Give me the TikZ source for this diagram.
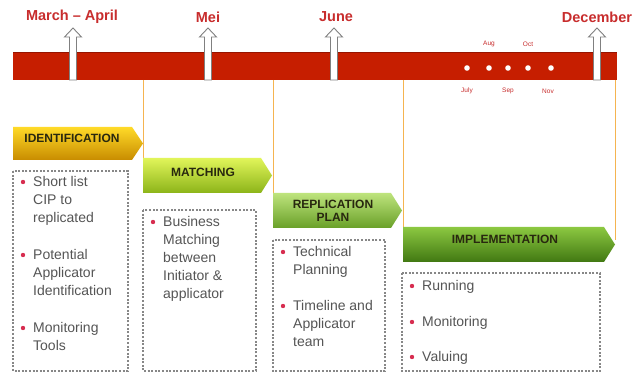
\documentclass[tikz,border=0pt]{standalone}
\usepackage{fontspec}
\setmainfont{Liberation Sans}
\definecolor{barred}{RGB}{198,30,0}
\definecolor{bardark}{RGB}{150,20,0}
\definecolor{labred}{RGB}{200,45,45}
\definecolor{vline}{RGB}{245,180,80}
\definecolor{boxgray}{RGB}{135,135,135}
\definecolor{txtgray}{RGB}{85,85,85}
\definecolor{bulcol}{RGB}{215,45,80}
\definecolor{stagetxt}{RGB}{40,40,15}
\definecolor{idT}{RGB}{255,218,40}
\definecolor{idM}{RGB}{246,184,0}
\definecolor{idB}{RGB}{200,140,0}
\definecolor{maT}{RGB}{225,245,90}
\definecolor{maM}{RGB}{190,228,45}
\definecolor{maB}{RGB}{140,180,25}
\definecolor{reT}{RGB}{190,228,125}
\definecolor{reM}{RGB}{145,205,70}
\definecolor{reB}{RGB}{105,160,40}
\definecolor{imT}{RGB}{140,200,65}
\definecolor{imM}{RGB}{98,165,35}
\definecolor{imB}{RGB}{65,120,18}
\tikzset{
  monthlab/.style={font=\fontsize{14.5}{16}\selectfont\bfseries, text=labred},
  smalllab/.style={font=\fontsize{6.5}{8}\selectfont, text=labred},
  stagelab/.style={font=\fontsize{12}{13}\selectfont\bfseries, text=stagetxt},
  itemtext/.style={font=\fontsize{14}{18}\selectfont, text=txtgray, inner sep=0pt},
  dbox/.style={draw=boxgray, line width=1.1pt, dash pattern=on 2pt off 1.6pt},
  conn/.style={draw=vline, line width=0.9pt},
  uparrow/.style={fill=white, draw=gray, line width=0.9pt},
}
\newcommand\upar[2]{% name, x
  \path[uparrow] ({#2-3.5},80) -- ({#2-3.5},37) -- ({#2-8.5},37) -- (#2,28) -- ({#2+8.5},37) -- ({#2+3.5},37) -- ({#2+3.5},80) -- cycle;
  \coordinate (#1) at (#2,28);
}
\newcommand\stageshape[5]{% x1,x2,yt,yb,prefix
  \shade[top color=#5T, middle color=#5M, bottom color=#5B]
    (#1,#3) -- ({#2-11},#3) -- (#2,{(#3+#4)/2}) -- ({#2-11},#4) -- (#1,#4) -- cycle;
}
\newcommand\bitem[4]{% name, x, baseline, lines
  \fill[bulcol] ({#2-10},{#3-5}) circle[radius=2.2pt];
  \foreach \l [count=\i from 0] in {#4}
    \node[itemtext, anchor=base west] (#1-\i) at (#2,{#3+18*\i}) {\l};
}
\begin{document}
\begin{tikzpicture}[x=1pt,y=-1pt]
\useasboundingbox[fill=white] (0,0) rectangle (641,374);

% timeline bar
\fill[barred] (13,52) rectangle (617,80);
\draw[bardark, line width=0.8pt] (13,52) -- (617,52);
\coordinate (bar1) at (143,80);
\coordinate (bar2) at (273,80);
\coordinate (bar3) at (403,80);
\coordinate (bar4) at (615,80);

% month dots
\foreach \x/\n in {467/d1,489/d2,508/d3,528/d4,551/d5}
  \fill[white] (\x,68) circle[radius=2.8pt] coordinate (\n);
\node[smalllab] (aug) at (489,44) {Aug};
\node[smalllab] (oct) at (528,44) {Oct};
\node[smalllab] (jul) at (467,91) {July};
\node[smalllab] (sep) at (508,91) {Sep};
\node[smalllab] (nov) at (548,91) {Nov};

% arrows
\upar{a1}{73}
\upar{a2}{208}
\upar{a3}{334}
\upar{a4}{597}

\node[monthlab] (m1) at (72,17) {March – April};
\node[monthlab] (m2) at (208,17) {Mei};
\node[monthlab] (m3) at (336,17) {June};
\node[monthlab] (m4) at (597,17) {December};

% stage coordinates
\coordinate (s2top) at (143,158);
\coordinate (s3top) at (273,193);
\coordinate (s4top) at (403,227);
\coordinate (s4end) at (615,240);

% vertical lines
\draw[conn] (bar1) -- (s2top);
\draw[conn] (bar2) -- (s3top);
\draw[conn] (bar3) -- (s4top);
\draw[conn] (bar4) -- (s4end);

% stage shapes
\stageshape{13}{143}{127}{160}{id}
\stageshape{143}{272}{158}{193}{ma}
\stageshape{273}{402}{193}{228}{re}
\stageshape{403}{615}{227}{262}{im}

\node[stagelab] (st1) at (72,138) {IDENTIFICATION};
\node[stagelab] (st2) at (203,172) {MATCHING};
\node[stagelab, align=center] (st3) at (333,211) {REPLICATION\\PLAN};
\node[stagelab] (st4) at (505,239) {IMPLEMENTATION};

% dashed boxes
\draw[dbox] (13,171) rectangle (128,371);
\draw[dbox] (143,210) rectangle (256,371);
\draw[dbox] (273,240) rectangle (385,371);
\draw[dbox] (402,273) rectangle (600,371);

% box 1
\bitem{b1a}{33}{187}{Short list,CIP to,replicated}
\bitem{b1b}{33}{260}{Potential,Applicator,Identification}
\bitem{b1c}{33}{333}{Monitoring,Tools}
% box 2
\bitem{b2a}{163}{227}{Business,Matching,between,Initiator \&,applicator}
% box 3
\bitem{b3a}{293}{257}{Technical,Planning}
\bitem{b3b}{293}{311}{Timeline and,Applicator,team}
% box 4
\bitem{b4a}{422}{291}{Running}
\bitem{b4b}{422}{327}{Monitoring}
\bitem{b4c}{422}{362}{Valuing}
\end{tikzpicture}
\end{document}
